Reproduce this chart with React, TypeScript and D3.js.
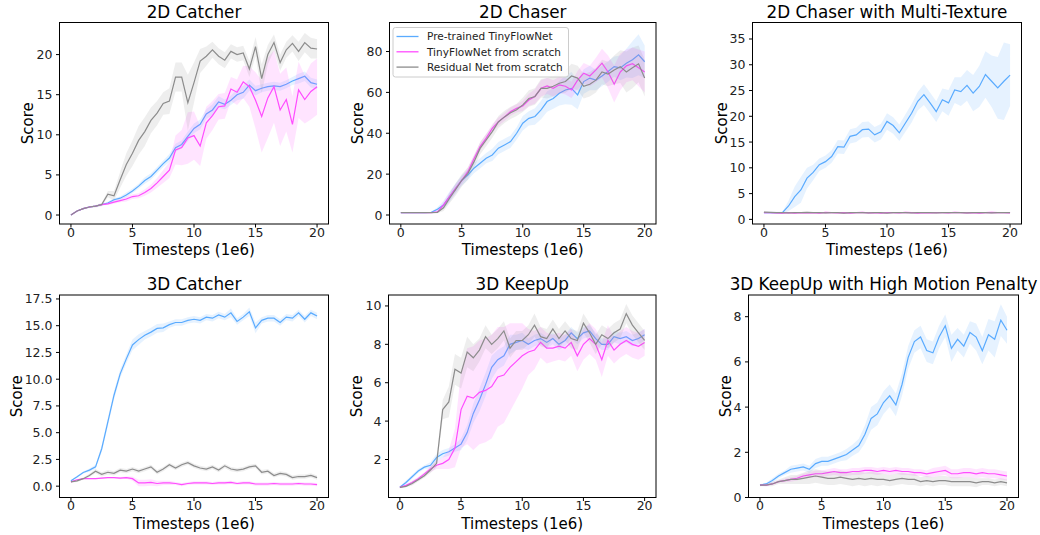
import React from "react";
import * as d3 from "d3";

// timesteps (1e6), sampled every 0.5
const timesteps = [
  0, 0.5, 1, 1.5, 2, 2.5, 3, 3.5, 4, 4.5, 5, 5.5, 6, 6.5, 7, 7.5, 8, 8.5, 9, 9.5, 10,
  10.5, 11, 11.5, 12, 12.5, 13, 13.5, 14, 14.5, 15, 15.5, 16, 16.5, 17, 17.5, 18, 18.5, 19, 19.5, 20,
];
const xTicks = [0, 5, 10, 15, 20];
const seriesNames = ["Pre-trained TinyFlowNet", "TinyFlowNet from scratch", "Residual Net from scratch"];

// 2D Catcher
const catcher2dPre = [0, 0.5, 0.8, 1.0, 1.1, 1.3, 1.5, 1.9, 2.1, 2.5, 3.0, 3.6, 4.3, 4.8, 5.6, 6.4, 7.1, 8.4, 8.8, 9.8, 10.8, 11.3, 12.6, 13.1, 14.1, 13.8, 14.3, 15.0, 15.3, 16.2, 15.5, 15.8, 16.0, 16.1, 16.0, 16.3, 16.7, 17.0, 17.3, 16.5, 16.3];
const catcher2dPreSd = [0, 0.05, 0.1, 0.1, 0.1, 0.1, 0.15, 0.2, 0.2, 0.3, 0.3, 0.3, 0.4, 0.4, 0.4, 0.4, 0.5, 0.5, 0.5, 0.6, 0.6, 0.6, 0.6, 0.7, 0.7, 0.6, 0.6, 0.7, 0.8, 0.7, 0.6, 0.5, 0.5, 0.5, 0.5, 0.5, 0.5, 0.6, 0.6, 0.6, 0.6];
const catcher2dTiny = [0, 0.5, 0.8, 1.0, 1.1, 1.3, 1.4, 1.6, 1.8, 2.0, 2.3, 2.4, 2.8, 3.3, 4.0, 4.8, 5.6, 8.1, 8.4, 9.6, 9.9, 8.6, 11.5, 12.4, 13.5, 13.6, 15.7, 15.3, 16.6, 16.0, 14.3, 12.3, 14.6, 16.0, 13.1, 14.4, 11.3, 15.6, 14.4, 15.4, 16.0];
const catcher2dTinySd = [0, 0.05, 0.1, 0.1, 0.1, 0.1, 0.15, 0.2, 0.2, 0.3, 0.3, 0.3, 0.4, 0.5, 0.6, 0.8, 1.0, 1.8, 2.2, 3.2, 3.0, 2.5, 2.0, 1.8, 1.6, 1.6, 1.5, 1.6, 2.0, 2.5, 3.5, 4.5, 5.0, 4.5, 4.5, 4.0, 3.5, 3.5, 3.0, 3.5, 3.5];
const catcher2dRes = [0, 0.5, 0.8, 1.0, 1.1, 1.3, 2.6, 2.4, 4.4, 6.3, 7.7, 9.3, 10.4, 11.8, 12.7, 13.9, 14.2, 17.2, 17.2, 14.0, 16.5, 19.2, 19.8, 20.6, 19.8, 19.3, 20.4, 20.0, 20.2, 18.2, 21.0, 17.0, 20.0, 21.5, 19.0, 20.6, 21.4, 20.4, 21.5, 20.8, 20.7];
const catcher2dResSd = [0, 0.05, 0.1, 0.1, 0.15, 0.2, 0.4, 0.6, 1.0, 1.4, 1.6, 1.8, 1.8, 1.6, 1.5, 1.4, 1.6, 1.8, 1.8, 3.5, 2.5, 1.5, 1.2, 1.0, 1.0, 1.0, 0.9, 0.9, 0.9, 1.0, 1.2, 1.8, 1.2, 1.0, 1.0, 1.0, 1.0, 1.2, 1.2, 1.3, 1.2];

// 2D Chaser
const chaser2dPre = [1.2, 1.2, 1.2, 1.2, 1.2, 1.3, 2.8, 4.9, 9.0, 13.0, 17.0, 19.6, 22.9, 25.3, 27.8, 29.4, 32.7, 34.3, 35.9, 40.0, 44.9, 47.3, 48.2, 51.4, 55.5, 57.0, 59.6, 61.2, 62.0, 58.8, 65.3, 67.0, 66.0, 68.0, 70.2, 72.6, 72.0, 74.3, 76.0, 78.4, 75.0];
const chaser2dPreSd = [0, 0, 0, 0, 0, 0.3, 1.0, 2.0, 2.5, 2.5, 2.5, 2.5, 2.5, 2.5, 2.5, 3, 3, 3, 3, 3, 3.5, 3.5, 4, 4.5, 5, 5, 6, 7, 8, 7, 6, 6, 5, 5, 5, 5, 6, 7, 9, 10, 8];
const chaser2dTiny = [1.2, 1.2, 1.2, 1.2, 1.2, 1.2, 1.5, 5.0, 9.0, 13.0, 17.0, 21.2, 27.5, 33.5, 37.6, 42.4, 45.7, 48.0, 50.6, 52.2, 53.4, 56.3, 58.0, 62.0, 63.2, 62.0, 63.7, 63.0, 61.2, 66.0, 69.4, 68.0, 71.0, 74.3, 70.0, 64.0, 70.0, 73.0, 74.0, 72.0, 70.0];
const chaser2dTinySd = [0, 0, 0, 0, 0, 0, 0.3, 1.5, 2.0, 2.0, 2.0, 2.0, 2.0, 2.0, 2.0, 2.0, 2.0, 2.0, 2.0, 2.0, 2.5, 3, 3.5, 4, 4, 4, 4, 4, 4, 4.5, 5, 5, 6, 7, 8, 9, 9, 8, 8, 9, 10];
const chaser2dRes = [1.2, 1.2, 1.2, 1.2, 1.2, 1.2, 1.3, 3.5, 8.2, 12.5, 17.0, 20.4, 26.0, 32.6, 36.7, 40.8, 45.5, 48.0, 50.0, 51.5, 53.9, 57.0, 58.0, 62.0, 62.0, 63.0, 64.5, 65.3, 68.0, 67.0, 63.0, 64.0, 66.0, 70.0, 69.0, 71.0, 72.6, 70.0, 72.0, 74.0, 67.0];
const chaser2dResSd = [0, 0, 0, 0, 0, 0, 0.5, 1.5, 2.5, 3.0, 3.0, 3.0, 3.0, 3.0, 3.0, 3.0, 3.0, 3.0, 3.0, 3.0, 3.5, 4, 4, 4.5, 5, 5, 5, 5.5, 6, 6, 6, 6, 6, 6, 6, 7, 8, 10, 10, 9, 9];

// 2D Chaser with Multi-Texture
const texturePre = [1.3, 1.3, 1.3, 1.3, 2.6, 4.4, 5.7, 8.0, 9.1, 10.6, 11.2, 12.2, 14.1, 14.0, 16.1, 16.4, 17.4, 17.5, 16.4, 17.0, 19.0, 18.2, 16.8, 18.7, 20.6, 22.9, 24.2, 22.6, 20.9, 23.2, 22.6, 25.1, 24.8, 26.0, 24.5, 25.8, 28.1, 26.8, 25.5, 26.8, 28.0];
const texturePreSd = [0.2, 0.2, 0.2, 0.2, 1.0, 2.0, 2.5, 2.0, 1.5, 1.2, 1.2, 1.2, 1.3, 1.3, 1.4, 1.4, 1.5, 1.5, 1.5, 1.5, 1.6, 1.6, 1.6, 1.7, 1.8, 1.8, 2.0, 2.0, 2.0, 2.2, 2.5, 2.5, 2.8, 3.0, 3.5, 4.0, 4.5, 5.0, 6.0, 7.5, 6.0];
const textureTiny = [1.3, 1.3, 1.25, 1.2, 1.3, 1.2, 1.3, 1.25, 1.3, 1.2, 1.35, 1.3, 1.25, 1.3, 1.2, 1.3, 1.35, 1.25, 1.3, 1.2, 1.3, 1.3, 1.25, 1.35, 1.3, 1.2, 1.3, 1.25, 1.3, 1.3, 1.25, 1.35, 1.3, 1.25, 1.3, 1.2, 1.3, 1.35, 1.3, 1.3, 1.25];
const textureTinySd = [0.1, 0.1, 0.1, 0.1, 0.1, 0.1, 0.1, 0.1, 0.1, 0.1, 0.1, 0.1, 0.1, 0.1, 0.1, 0.1, 0.1, 0.1, 0.1, 0.1, 0.1, 0.1, 0.1, 0.1, 0.1, 0.1, 0.1, 0.1, 0.1, 0.1, 0.1, 0.1, 0.1, 0.1, 0.1, 0.1, 0.1, 0.1, 0.1, 0.1, 0.1];
const textureRes = [1.4, 1.35, 1.3, 1.3, 1.25, 1.3, 1.3, 1.35, 1.3, 1.3, 1.25, 1.3, 1.3, 1.2, 1.3, 1.3, 1.3, 1.25, 1.3, 1.3, 1.2, 1.3, 1.3, 1.3, 1.25, 1.3, 1.3, 1.3, 1.25, 1.3, 1.3, 1.3, 1.3, 1.25, 1.3, 1.3, 1.3, 1.25, 1.3, 1.3, 1.3];
const textureResSd = [0.15, 0.15, 0.15, 0.15, 0.15, 0.15, 0.15, 0.15, 0.15, 0.15, 0.15, 0.15, 0.15, 0.15, 0.15, 0.15, 0.15, 0.15, 0.15, 0.15, 0.15, 0.15, 0.15, 0.15, 0.15, 0.15, 0.15, 0.15, 0.15, 0.15, 0.15, 0.15, 0.15, 0.15, 0.15, 0.15, 0.15, 0.15, 0.15, 0.15, 0.15];

// 3D Catcher
const catcher3dPre = [0.5, 0.87, 1.28, 1.5, 1.8, 3.5, 6.0, 8.5, 10.5, 11.9, 13.2, 13.7, 14.1, 14.4, 14.75, 14.8, 15.1, 15.3, 15.3, 15.5, 15.6, 15.5, 15.8, 15.7, 16.0, 15.8, 16.2, 15.4, 15.8, 16.3, 14.8, 15.5, 15.7, 15.7, 15.3, 15.8, 15.7, 16.2, 15.6, 16.2, 15.9];
const catcher3dPreSd = [0.05, 0.1, 0.1, 0.15, 0.2, 0.3, 0.4, 0.4, 0.4, 0.4, 0.5, 0.5, 0.4, 0.4, 0.4, 0.4, 0.3, 0.3, 0.3, 0.3, 0.3, 0.3, 0.3, 0.3, 0.3, 0.3, 0.4, 0.3, 0.3, 0.4, 0.5, 0.3, 0.3, 0.3, 0.3, 0.3, 0.3, 0.3, 0.3, 0.3, 0.3];
const catcher3dTiny = [0.4, 0.6, 0.7, 0.7, 0.7, 0.75, 0.8, 0.8, 0.75, 0.8, 0.7, 0.3, 0.3, 0.35, 0.25, 0.3, 0.3, 0.25, 0.15, 0.25, 0.3, 0.3, 0.3, 0.25, 0.3, 0.3, 0.35, 0.25, 0.3, 0.3, 0.2, 0.2, 0.2, 0.25, 0.2, 0.2, 0.2, 0.25, 0.2, 0.2, 0.15];
const catcher3dTinySd = [0.05, 0.05, 0.05, 0.05, 0.05, 0.05, 0.05, 0.05, 0.1, 0.1, 0.2, 0.3, 0.3, 0.3, 0.25, 0.2, 0.2, 0.15, 0.15, 0.15, 0.15, 0.15, 0.15, 0.15, 0.15, 0.15, 0.15, 0.15, 0.15, 0.15, 0.15, 0.15, 0.15, 0.15, 0.15, 0.15, 0.15, 0.15, 0.15, 0.15, 0.15];
const catcher3dRes = [0.4, 0.5, 0.7, 1.0, 1.4, 1.1, 1.3, 1.2, 1.5, 1.4, 1.6, 1.4, 1.6, 1.8, 1.3, 1.6, 2.0, 1.7, 2.0, 2.2, 1.9, 1.7, 1.6, 1.8, 1.5, 1.9, 1.6, 1.5, 1.6, 1.8, 1.9, 1.3, 1.4, 1.0, 1.2, 1.1, 0.8, 0.9, 0.9, 1.0, 0.8];
const catcher3dResSd = [0.05, 0.1, 0.1, 0.15, 0.2, 0.2, 0.2, 0.2, 0.2, 0.2, 0.2, 0.2, 0.2, 0.2, 0.2, 0.2, 0.2, 0.2, 0.2, 0.2, 0.2, 0.2, 0.2, 0.2, 0.2, 0.2, 0.2, 0.2, 0.2, 0.2, 0.2, 0.2, 0.2, 0.2, 0.2, 0.2, 0.2, 0.2, 0.2, 0.2, 0.2];

// 3D KeepUp
const keepUpPre = [0.55, 0.8, 1.1, 1.4, 1.6, 1.7, 2.1, 2.3, 2.4, 2.6, 2.8, 3.4, 4.4, 5.1, 5.9, 6.8, 7.2, 7.4, 8.0, 8.1, 8.2, 8.0, 8.2, 8.3, 8.1, 8.3, 8.0, 8.2, 8.6, 8.3, 8.6, 8.7, 8.3, 8.0, 8.0, 8.4, 8.3, 8.4, 8.2, 8.3, 8.5];
const keepUpPreSd = [0.05, 0.1, 0.1, 0.1, 0.1, 0.15, 0.2, 0.2, 0.2, 0.2, 0.3, 0.4, 0.5, 0.6, 0.6, 0.6, 0.5, 0.5, 0.5, 0.4, 0.4, 0.3, 0.3, 0.3, 0.3, 0.3, 0.3, 0.3, 0.3, 0.3, 0.3, 0.3, 0.3, 0.3, 0.3, 0.3, 0.3, 0.3, 0.3, 0.3, 0.3];
const keepUpTiny = [0.55, 0.65, 0.8, 1.0, 1.25, 1.5, 1.7, 1.8, 2.0, 2.6, 4.6, 5.3, 5.2, 5.5, 5.6, 5.8, 6.3, 6.4, 6.8, 7.1, 7.4, 7.6, 7.7, 8.1, 7.8, 7.8, 7.9, 7.8, 8.1, 7.4, 8.0, 8.3, 8.0, 7.2, 8.2, 7.7, 8.0, 8.2, 8.0, 7.9, 8.1];
const keepUpTinySd = [0.05, 0.05, 0.1, 0.1, 0.1, 0.15, 0.2, 0.3, 0.5, 1.0, 2.0, 2.5, 2.7, 2.7, 2.7, 2.7, 2.6, 2.5, 2.3, 2.0, 1.7, 1.2, 1.0, 0.8, 0.8, 0.7, 0.7, 0.7, 0.7, 0.8, 0.8, 0.8, 0.8, 0.9, 0.8, 0.7, 0.7, 0.7, 0.7, 0.7, 0.7];
const keepUpRes = [0.55, 0.6, 0.75, 0.95, 1.15, 1.45, 1.8, 4.6, 5.0, 6.7, 6.5, 7.6, 7.3, 7.7, 8.4, 8.0, 8.3, 8.7, 7.8, 8.2, 8.2, 8.5, 9.0, 8.4, 8.3, 8.8, 8.3, 8.7, 8.3, 8.2, 9.1, 8.6, 8.0, 8.5, 8.3, 8.6, 8.8, 9.6, 9.0, 8.6, 8.2];
const keepUpResSd = [0.05, 0.05, 0.1, 0.1, 0.1, 0.15, 0.2, 0.5, 0.8, 0.8, 0.8, 0.8, 0.7, 0.6, 0.6, 0.5, 0.5, 0.5, 0.5, 0.5, 0.5, 0.5, 0.6, 0.5, 0.5, 0.5, 0.5, 0.5, 0.5, 0.5, 0.5, 0.5, 0.5, 0.5, 0.5, 0.5, 0.5, 0.5, 0.5, 0.5, 0.5];

// 3D KeepUp with High Motion Penalty
const penaltyPre = [0.55, 0.6, 0.75, 0.95, 1.1, 1.25, 1.3, 1.35, 1.25, 1.5, 1.6, 1.6, 1.7, 1.8, 1.9, 2.1, 2.3, 2.8, 3.5, 3.7, 4.2, 4.5, 4.1, 5.0, 6.2, 6.9, 7.1, 6.5, 6.4, 7.1, 7.6, 6.6, 7.0, 6.7, 7.3, 7.1, 6.5, 7.2, 7.0, 7.85, 7.4];
const penaltyPreSd = [0.05, 0.05, 0.1, 0.1, 0.1, 0.15, 0.15, 0.15, 0.15, 0.2, 0.2, 0.2, 0.2, 0.2, 0.25, 0.25, 0.3, 0.4, 0.5, 0.5, 0.5, 0.5, 0.5, 0.5, 0.5, 0.5, 0.5, 0.5, 0.5, 0.5, 0.5, 0.6, 0.5, 0.5, 0.5, 0.6, 0.6, 0.7, 0.8, 0.7, 0.6];
const penaltyTiny = [0.55, 0.55, 0.6, 0.7, 0.75, 0.8, 0.85, 0.95, 1.0, 1.05, 1.05, 1.1, 1.15, 1.1, 1.1, 1.15, 1.15, 1.2, 1.2, 1.15, 1.2, 1.15, 1.2, 1.15, 1.15, 1.1, 1.1, 1.05, 1.1, 1.15, 1.2, 1.05, 1.05, 1.1, 1.1, 1.05, 1.1, 1.05, 1.05, 1.0, 0.95];
const penaltyTinySd = [0.03, 0.05, 0.05, 0.05, 0.08, 0.1, 0.1, 0.1, 0.12, 0.15, 0.15, 0.15, 0.15, 0.15, 0.15, 0.15, 0.15, 0.15, 0.15, 0.15, 0.15, 0.15, 0.15, 0.15, 0.15, 0.15, 0.15, 0.15, 0.2, 0.2, 0.2, 0.2, 0.2, 0.2, 0.2, 0.2, 0.2, 0.2, 0.2, 0.2, 0.2];
const penaltyRes = [0.55, 0.55, 0.6, 0.7, 0.75, 0.8, 0.8, 0.85, 0.9, 0.95, 0.9, 0.85, 0.85, 0.9, 0.85, 0.8, 0.85, 0.8, 0.85, 0.8, 0.8, 0.75, 0.8, 0.85, 0.8, 0.8, 0.7, 0.75, 0.7, 0.75, 0.75, 0.7, 0.7, 0.7, 0.7, 0.65, 0.7, 0.7, 0.65, 0.7, 0.65];
const penaltyResSd = [0.05, 0.05, 0.1, 0.1, 0.15, 0.2, 0.2, 0.25, 0.3, 0.3, 0.3, 0.3, 0.3, 0.3, 0.3, 0.3, 0.3, 0.3, 0.3, 0.3, 0.25, 0.25, 0.25, 0.25, 0.25, 0.25, 0.2, 0.2, 0.2, 0.2, 0.2, 0.2, 0.2, 0.2, 0.2, 0.2, 0.15, 0.15, 0.15, 0.15, 0.15];

const COLORS = ["#5aabff", "#ff4cff", "#8c8c8c"];
const FONT = "DejaVu Sans, sans-serif";

type PanelSpec = {
  title: string;
  left: number;
  top: number;
  width: number;
  height: number;
  yDomain: [number, number];
  yTicks: number[];
  yFmt: (v: number) => string;
  ylabelX: number;
  means: number[][];
  spreads: number[][];
  legend?: boolean;
};

const intFmt = (v: number) => String(v);
const oneFmt = (v: number) => v.toFixed(1);

const panels: PanelSpec[] = [
  { title: "2D Catcher", left: 59.5, top: 22.5, width: 269, height: 201.5, yDomain: [-1.12, 24.0], yTicks: [0, 5, 10, 15, 20], yFmt: intFmt, ylabelX: 33,
    means: [catcher2dPre, catcher2dTiny, catcher2dRes], spreads: [catcher2dPreSd, catcher2dTinySd, catcher2dResSd] },
  { title: "2D Chaser", left: 389.5, top: 22.5, width: 266.5, height: 201.5, yDomain: [-4.4, 94.2], yTicks: [0, 20, 40, 60, 80], yFmt: intFmt, ylabelX: 362.5,
    means: [chaser2dPre, chaser2dTiny, chaser2dRes], spreads: [chaser2dPreSd, chaser2dTinySd, chaser2dResSd], legend: true },
  { title: "2D Chaser with Multi-Texture", left: 752.5, top: 22.5, width: 269, height: 201.5, yDomain: [-0.9, 38.2], yTicks: [0, 5, 10, 15, 20, 25, 30, 35], yFmt: intFmt, ylabelX: 726.5,
    means: [texturePre, textureTiny, textureRes], spreads: [texturePreSd, textureTinySd, textureResSd] },
  { title: "3D Catcher", left: 59.5, top: 295, width: 269, height: 202.5, yDomain: [-1.06, 17.87], yTicks: [0, 2.5, 5, 7.5, 10, 12.5, 15, 17.5], yFmt: oneFmt, ylabelX: 21.5,
    means: [catcher3dPre, catcher3dTiny, catcher3dRes], spreads: [catcher3dPreSd, catcher3dTinySd, catcher3dResSd] },
  { title: "3D KeepUp", left: 388.5, top: 295, width: 267.5, height: 202.5, yDomain: [0.02, 10.57], yTicks: [2, 4, 6, 8, 10], yFmt: intFmt, ylabelX: 361.5,
    means: [keepUpPre, keepUpTiny, keepUpRes], spreads: [keepUpPreSd, keepUpTinySd, keepUpResSd] },
  { title: "3D KeepUp with High Motion Penalty", left: 748.5, top: 295, width: 270, height: 202.5, yDomain: [0, 8.96], yTicks: [0, 2, 4, 6, 8], yFmt: intFmt, ylabelX: 730.5,
    means: [penaltyPre, penaltyTiny, penaltyRes], spreads: [penaltyPreSd, penaltyTinySd, penaltyResSd] },
];

function Panel({ p, idx }: { p: PanelSpec; idx: number }) {
  const x = d3.scaleLinear().domain([-0.93, 20.93]).range([p.left, p.left + p.width]);
  const y = d3.scaleLinear().domain(p.yDomain).range([p.top + p.height, p.top]);
  const bottom = p.top + p.height;
  const clipId = `clip-${idx}`;

  const line = d3
    .line<number>()
    .x((_, i) => x(timesteps[i]))
    .y((d) => y(d));

  const band = (mean: number[], sd: number[]) =>
    d3
      .area<number>()
      .x((_, i) => x(timesteps[i]))
      .y0((d, i) => y(d - sd[i]))
      .y1((d, i) => y(d + sd[i]))(mean);

  return (
    <g>
      <defs>
        <clipPath id={clipId}>
          <rect x={p.left} y={p.top} width={p.width} height={p.height} />
        </clipPath>
      </defs>
      <g clipPath={`url(#${clipId})`}>
        {p.means.map((m, k) => (
          <g key={k}>
            <path d={band(m, p.spreads[k]) || ""} fill={COLORS[k]} fillOpacity={0.15} stroke="none" />
            <path d={line(m) || ""} fill="none" stroke={COLORS[k]} strokeWidth={1.2} />
          </g>
        ))}
      </g>
      <rect x={p.left} y={p.top} width={p.width} height={p.height} fill="none" stroke="#000" strokeWidth={1} />

      {/* x axis */}
      {xTicks.map((t) => (
        <g key={t}>
          <line x1={x(t)} x2={x(t)} y1={bottom} y2={bottom + 3.5} stroke="#000" />
          <text x={x(t)} y={bottom + 12.7} textAnchor="middle" fontSize={12.5} fill="#222">
            {t}
          </text>
        </g>
      ))}
      {/* y axis */}
      {p.yTicks.map((t) => (
        <g key={t}>
          <line x1={p.left - 3.5} x2={p.left} y1={y(t)} y2={y(t)} stroke="#000" />
          <text x={p.left - 7} y={y(t)} dy="0.36em" textAnchor="end" fontSize={12.5} fill="#222">
            {p.yFmt(t)}
          </text>
        </g>
      ))}

      <text x={p.left + p.width / 2} y={p.top - 5} textAnchor="middle" fontSize={16.8} fill="#000">
        {p.title}
      </text>
      <text x={p.left + p.width / 2} y={bottom + 31} textAnchor="middle" fontSize={15} fill="#000">
        Timesteps (1e6)
      </text>
      <text
        transform={`translate(${p.ylabelX},${p.top + p.height / 2}) rotate(-90)`}
        textAnchor="middle"
        fontSize={15}
        fill="#000"
      >
        Score
      </text>

      {p.legend && (
        <g>
          <rect x={p.left + 3.5} y={p.top + 5} width={175.5} height={49.5} rx={2.5} fill="#fff" fillOpacity={0.8} stroke="#cccccc" />
          {seriesNames.map((name, k) => {
            const ly = p.top + 14 + k * 15.3;
            return (
              <g key={name}>
                <line x1={p.left + 7} x2={p.left + 29} y1={ly} y2={ly} stroke={COLORS[k]} strokeWidth={1.3} />
                <text x={p.left + 37.5} y={ly} dy="0.36em" fontSize={10.5} fill="#222">
                  {name}
                </text>
              </g>
            );
          })}
        </g>
      )}
    </g>
  );
}

export default function App() {
  return (
    <svg
      width={1040}
      height={535}
      style={{ position: "absolute", left: 0, top: 0, background: "#fff" }}
      fontFamily={FONT}
    >
      <rect width={1040} height={535} fill="#fff" />
      {panels.map((p, i) => (
        <Panel key={p.title} p={p} idx={i} />
      ))}
    </svg>
  );
}
